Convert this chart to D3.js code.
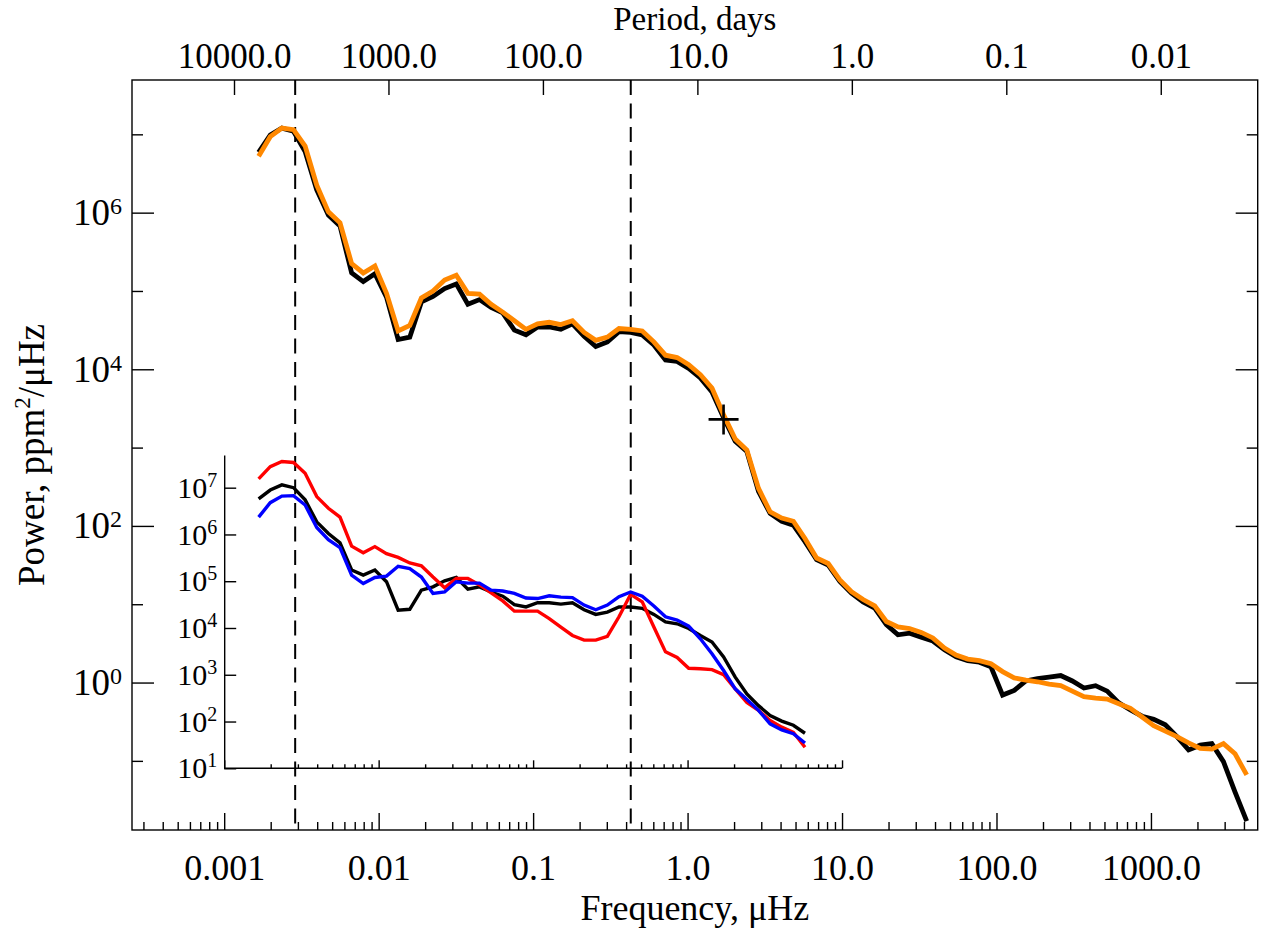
<!DOCTYPE html>
<html>
<head>
<meta charset="utf-8">
<script src="https://cdnjs.cloudflare.com/ajax/libs/d3/7.8.5/d3.min.js"></script>
<style>
  body { margin: 0; background: #fff; }
  svg { display: block; }
</style>
</head>
<body>
<div id="chart"></div>
<script>
// frequencies in microHz (quarter-octave bins)
const freq = [
  0.001671, 0.001987, 0.002363, 0.002810, 0.003342, 0.003974, 0.004726, 0.005620, 0.006684, 0.007949,
  0.009453, 0.01124, 0.01337, 0.01590, 0.01891, 0.02248, 0.02674, 0.03180, 0.03781, 0.04496,
  0.05347, 0.06359, 0.07562, 0.08993, 0.1069, 0.1272, 0.1512, 0.1798, 0.2139, 0.2544,
  0.3025, 0.3597, 0.4278, 0.5087, 0.6050, 0.7194, 0.8556, 1.017, 1.210, 1.439,
  1.711, 2.035, 2.420, 2.878, 3.422, 4.070, 4.840, 5.755, 6.844, 8.139,
  9.680, 11.51, 13.69, 16.28, 19.36, 23.02, 27.38, 32.56, 38.72, 46.04,
  54.76, 65.12, 77.44, 92.09, 109.5, 130.2, 154.9, 184.2, 219.0, 260.5,
  309.7, 368.3, 438.0, 520.9, 619.5, 736.7, 876.1, 1042, 1239, 1473,
  1752, 2084, 2478, 2947, 3504, 4167
];

// log10 of power, ppm^2/microHz
const logPowerBlack = [
  6.77, 6.99, 7.08, 7.04, 6.78, 6.29, 5.97, 5.83, 5.23, 5.12,
  5.22, 4.92, 4.38, 4.41, 4.86, 4.93, 5.03, 5.09, 4.83, 4.89,
  4.79, 4.72, 4.50, 4.44, 4.54, 4.54, 4.51, 4.58, 4.42, 4.29,
  4.35, 4.48, 4.47, 4.44, 4.31, 4.12, 4.10, 4.01, 3.89, 3.71,
  3.38, 3.08, 2.95, 2.44, 2.16, 2.06, 2.01, 1.80, 1.57, 1.50,
  1.29, 1.14, 1.03, 0.95, 0.74, 0.61, 0.63, 0.58, 0.53, 0.42,
  0.33, 0.28, 0.26, 0.20, -0.16, -0.10, 0.02, 0.05, 0.07, 0.09,
  0.02, -0.07, -0.04, -0.11, -0.26, -0.35, -0.43, -0.47, -0.54, -0.69,
  -0.86, -0.80, -0.78, -1.01, -1.40, -1.77
];

const logPowerOrange = [
  6.72, 6.97, 7.08, 7.06, 6.85, 6.35, 6.01, 5.87, 5.35, 5.23,
  5.32, 4.97, 4.49, 4.56, 4.91, 5.00, 5.14, 5.20, 4.97, 4.96,
  4.83, 4.73, 4.62, 4.51, 4.58, 4.60, 4.57, 4.62, 4.47, 4.37,
  4.41, 4.52, 4.51, 4.49, 4.35, 4.18, 4.15, 4.06, 3.93, 3.76,
  3.42, 3.11, 2.97, 2.48, 2.18, 2.10, 2.06, 1.84, 1.59, 1.52,
  1.31, 1.16, 1.06, 0.98, 0.78, 0.71, 0.69, 0.64, 0.57, 0.44,
  0.35, 0.30, 0.28, 0.24, 0.14, 0.06, 0.03, 0.01, -0.02, -0.04,
  -0.11, -0.18, -0.20, -0.21, -0.27, -0.33, -0.44, -0.55, -0.62, -0.69,
  -0.77, -0.84, -0.85, -0.78, -0.91, -1.18
];

// inset: first 48 bins
const insetLogRed = [
  7.19, 7.45, 7.56, 7.54, 7.31, 6.81, 6.56, 6.37, 5.75, 5.61,
  5.74, 5.59, 5.51, 5.39, 5.33, 5.09, 4.86, 5.06, 5.06, 4.92,
  4.75, 4.58, 4.36, 4.36, 4.36, 4.20, 4.02, 3.84, 3.74, 3.74,
  3.82, 4.24, 4.72, 4.56, 4.02, 3.49, 3.37, 3.14, 3.13, 3.11,
  3.00, 2.70, 2.41, 2.24, 2.02, 1.88, 1.77, 1.45
];
const insetLogBlack = [
  6.76, 6.95, 7.06, 7.00, 6.74, 6.27, 6.02, 5.82, 5.24, 5.13,
  5.24, 4.99, 4.38, 4.40, 4.81, 4.88, 5.01, 5.08, 4.83, 4.88,
  4.77, 4.68, 4.50, 4.45, 4.54, 4.54, 4.51, 4.54, 4.39, 4.29,
  4.34, 4.45, 4.45, 4.42, 4.29, 4.13, 4.09, 3.99, 3.84, 3.70,
  3.38, 2.95, 2.59, 2.34, 2.13, 2.01, 1.92, 1.75
];
const insetLogBlue = [
  6.37, 6.68, 6.82, 6.83, 6.63, 6.15, 5.89, 5.72, 5.13, 4.95,
  5.08, 5.11, 5.32, 5.27, 5.09, 4.74, 4.77, 4.99, 4.96, 4.96,
  4.81, 4.79, 4.74, 4.64, 4.63, 4.69, 4.66, 4.65, 4.49, 4.39,
  4.49, 4.67, 4.77, 4.68, 4.47, 4.24, 4.17, 4.04, 3.77, 3.45,
  3.09, 2.70, 2.47, 2.24, 1.95, 1.82, 1.74, 1.54
];

const freqTicks = [0.001, 0.01, 0.1, 1, 10, 100, 1000];
const freqLabels = ["0.001", "0.01", "0.1", "1.0", "10.0", "100.0", "1000.0"];
const periodTicks = [10000, 1000, 100, 10, 1, 0.1, 0.01];
const periodLabels = ["10000.0", "1000.0", "100.0", "10.0", "1.0", "0.1", "0.01"];
const powerMajor = [1, 1e2, 1e4, 1e6];
const powerMinor = [1e-1, 1e1, 1e3, 1e5, 1e7];
const insetPowerTicks = [1e1, 1e2, 1e3, 1e4, 1e5, 1e6, 1e7];
const insetFreqTicks = [0.001, 0.01, 0.1, 1, 10];
const markedPeriodsDays = [11 * 365.25, 27];   // solar cycle, rotation
const crossPoint = { f: 1.71, p: 2290 };

const serif = "'Liberation Serif', 'Times New Roman', serif";
const box = { left: 132, right: 1257.7, top: 80, bottom: 830 };

const svg = d3.select("#chart").append("svg")
    .attr("width", 1262)
    .attr("height", 928)
    .attr("font-family", serif);

const x = d3.scaleLog().domain([2.53e-4, 4.91e3]).range([box.left, box.right]);
const y = d3.scaleLog().domain([0.0131, 4.94e7]).range([box.bottom, box.top]);
const yIn = d3.scaleLog().domain([10, 5e7]).range([768.3, 455]);

const dayToFreq = d => 1e6 / (86400 * d);

function minorTicks(lo, hi) {
    const out = [];
    for (let e = Math.floor(Math.log10(lo)); e <= Math.ceil(Math.log10(hi)); e++) {
        for (let k = 2; k <= 9; k++) {
            const v = k * Math.pow(10, e);
            if (v > lo * 1.0001 && v < hi * 0.9999) out.push(v);
        }
    }
    return out;
}

function tidy(g, size, keepDomain) {
    if (!keepDomain) g.select(".domain").remove();
    else g.select(".domain").attr("stroke", "#000").attr("stroke-width", 1.4);
    g.attr("font-family", serif).attr("font-size", size);
    g.selectAll(".tick line").attr("stroke", "#000").attr("stroke-width", 1.4);
    g.selectAll(".tick text").attr("fill", "#000");
}

function powerLabels(g, supSize, shift) {
    g.selectAll(".tick text").text(null).each(function(d) {
        const t = d3.select(this);
        t.append("tspan").text("10");
        t.append("tspan").attr("font-size", supSize).attr("dy", shift).text(Math.round(Math.log10(d)));
    });
}

// dashed reference lines
svg.selectAll(".marker")
    .data(markedPeriodsDays)
    .enter().append("line")
    .attr("class", "marker")
    .attr("x1", d => x(dayToFreq(d)))
    .attr("x2", d => x(dayToFreq(d)))
    .attr("y1", box.top)
    .attr("y2", box.bottom)
    .attr("stroke", "#000")
    .attr("stroke-width", 2)
    .attr("stroke-dasharray", "15,8.5");

// frame
svg.append("rect")
    .attr("x", box.left).attr("y", box.top)
    .attr("width", box.right - box.left).attr("height", box.bottom - box.top)
    .attr("fill", "none").attr("stroke", "#000").attr("stroke-width", 1.4);

// bottom axis
svg.append("g")
    .attr("transform", `translate(0,${box.bottom})`)
    .call(d3.axisBottom(x).tickValues(freqTicks).tickSize(-17).tickPadding(24)
        .tickFormat((d, i) => freqLabels[i]))
    .call(g => tidy(g, 36));
svg.append("g")
    .attr("transform", `translate(0,${box.bottom})`)
    .call(d3.axisBottom(x).tickValues(minorTicks(2.53e-4, 4.91e3)).tickSize(-8).tickFormat(""))
    .call(g => tidy(g, 36));

// top axis, period in days
svg.append("g")
    .attr("transform", `translate(0,${box.top})`)
    .call(d3.axisTop(x).tickValues(periodTicks.map(dayToFreq)).tickSize(-15).tickPadding(12)
        .tickFormat((d, i) => periodLabels[i]))
    .call(g => tidy(g, 35));

// left and right axes
svg.append("g")
    .attr("transform", `translate(${box.left},0)`)
    .call(d3.axisLeft(y).tickValues(powerMajor).tickSize(-22).tickPadding(10))
    .call(g => tidy(g, 37))
    .call(g => powerLabels(g, 24, -11));
svg.append("g")
    .attr("transform", `translate(${box.left},0)`)
    .call(d3.axisLeft(y).tickValues(powerMinor).tickSize(-11).tickFormat(""))
    .call(g => tidy(g, 37));
svg.append("g")
    .attr("transform", `translate(${box.right},0)`)
    .call(d3.axisRight(y).tickValues(powerMajor).tickSize(-22).tickFormat(""))
    .call(g => tidy(g, 37));
svg.append("g")
    .attr("transform", `translate(${box.right},0)`)
    .call(d3.axisRight(y).tickValues(powerMinor).tickSize(-11).tickFormat(""))
    .call(g => tidy(g, 37));

// axis titles
svg.append("text")
    .attr("x", (box.left + box.right) / 2).attr("y", 920)
    .attr("text-anchor", "middle").attr("font-size", 36)
    .text("Frequency, μHz");
svg.append("text")
    .attr("x", (box.left + box.right) / 2).attr("y", 29.5)
    .attr("text-anchor", "middle").attr("font-size", 33)
    .text("Period, days");
const yTitle = svg.append("text")
    .attr("transform", `translate(44,455) rotate(-90)`)
    .attr("text-anchor", "middle").attr("font-size", 37);
yTitle.append("tspan").text("Power, ppm");
yTitle.append("tspan").attr("font-size", 23).attr("dy", -14).text("2");
yTitle.append("tspan").attr("dy", 14).text("/μHz");

// main spectra
const mainLine = d3.line().x(d => x(d.f)).y(d => y(d.p));
const series = (logs) => logs.map((v, i) => ({ f: freq[i], p: Math.pow(10, v) }));

svg.append("path")
    .datum(series(logPowerBlack))
    .attr("fill", "none").attr("stroke", "#000").attr("stroke-width", 4.8)
    .attr("d", mainLine);
svg.append("path")
    .datum(series(logPowerOrange))
    .attr("fill", "none").attr("stroke", "#ff8800").attr("stroke-width", 4.8)
    .attr("d", mainLine);

// cross marker
svg.append("path")
    .attr("transform", `translate(${x(crossPoint.f)},${y(crossPoint.p)})`)
    .attr("d", "M-15,0H15M0,-15V15")
    .attr("stroke", "#000").attr("stroke-width", 2.6);

// inset
const insetLeft = x(insetFreqTicks[0]);
const insetRight = x(insetFreqTicks[insetFreqTicks.length - 1]);
const insetBottom = yIn.range()[0];

svg.append("g")
    .attr("transform", `translate(${insetLeft},0)`)
    .call(d3.axisLeft(yIn).tickValues(insetPowerTicks).tickSize(-12).tickSizeOuter(0).tickPadding(7))
    .call(g => tidy(g, 30, true))
    .call(g => powerLabels(g, 20, -11));

svg.append("line")
    .attr("x1", insetLeft).attr("x2", insetRight)
    .attr("y1", insetBottom).attr("y2", insetBottom)
    .attr("stroke", "#000").attr("stroke-width", 1.4);
svg.append("g")
    .attr("transform", `translate(0,${insetBottom})`)
    .call(d3.axisBottom(x).tickValues(insetFreqTicks).tickSize(-8).tickFormat(""))
    .call(g => tidy(g, 30));
svg.append("g")
    .attr("transform", `translate(0,${insetBottom})`)
    .call(d3.axisBottom(x).tickValues(minorTicks(0.001, 10)).tickSize(-4).tickFormat(""))
    .call(g => tidy(g, 30));

const insetLine = d3.line().x(d => x(d.f)).y(d => yIn(d.p));
[[insetLogBlack, "#000"], [insetLogRed, "#ff0000"], [insetLogBlue, "#0000ff"]].forEach(([logs, color]) => {
    svg.append("path")
        .datum(series(logs))
        .attr("fill", "none").attr("stroke", color).attr("stroke-width", 3.4)
        .attr("d", insetLine);
});
</script>
</body>
</html>
